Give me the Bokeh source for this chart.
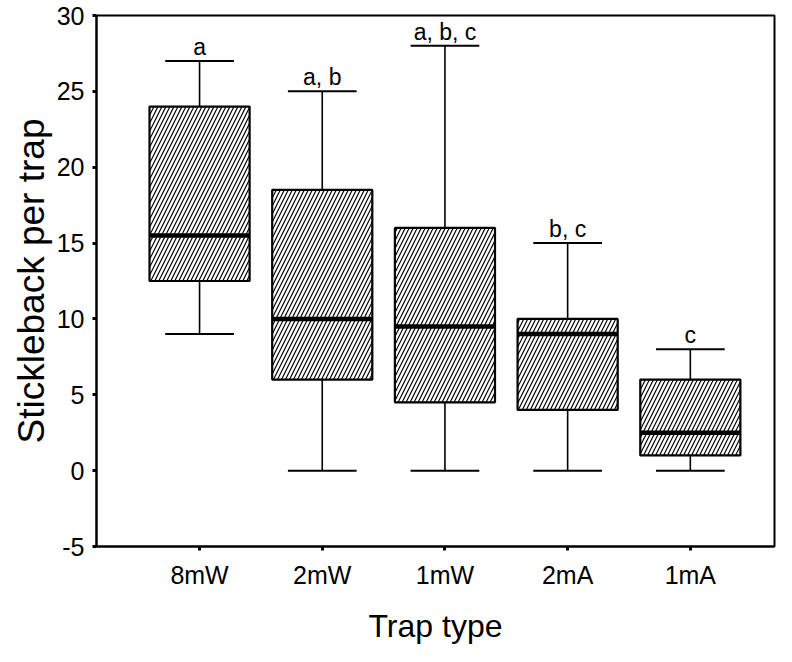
from bokeh.plotting import figure
from bokeh.models import ColumnDataSource, Range1d, FixedTicker
from bokeh.core.properties import value
from bokeh.embed import file_html
from bokeh.resources import INLINE

# ---- data ----
trap_types = ["8mW", "2mW", "1mW", "2mA", "1mA"]
whisker_low = [9, 0, 0, 0, 0]
q1 = [12.5, 6, 4.5, 4, 1]
median = [15.5, 10, 9.5, 9, 2.5]
q3 = [24, 18.5, 16, 10, 6]
whisker_high = [27, 25, 28, 15, 8]
group_labels = ["a", "a, b", "a, b, c", "b, c", "c"]
y_ticks = [-5, 0, 5, 10, 15, 20, 25, 30]
y_tick_labels = ["-5", "0", "5", "10", "15", "20", "25", "30"]

FONT = "Liberation Sans"
BOX_W = 0.816
CAP_W = 0.56

xs = list(range(len(trap_types)))
src = ColumnDataSource(dict(
    x=xs,
    lo=whisker_low, q1=q1, med=median, q3=q3, hi=whisker_high,
    lab=group_labels,
    cap_l=[x - CAP_W / 2 for x in xs], cap_r=[x + CAP_W / 2 for x in xs],
    box_l=[x - BOX_W / 2 for x in xs], box_r=[x + BOX_W / 2 for x in xs],
))

p = figure(width=776, height=646, output_backend="svg", toolbar_location=None,
           x_range=Range1d(-0.84, 4.686), y_range=Range1d(-5, 30),
           min_border_left=96, min_border_right=2, min_border_top=15, min_border_bottom=10)

p.xgrid.visible = False
p.ygrid.visible = False
p.outline_line_color = "black"
p.outline_line_width = 2
p.background_fill_color = "white"
p.border_fill_color = "white"

# whiskers
p.segment("x", "q3", "x", "hi", source=src, line_color="black", line_width=1.6)
p.segment("x", "lo", "x", "q1", source=src, line_color="black", line_width=1.6)
p.segment("cap_l", "hi", "cap_r", "hi", source=src, line_color="black", line_width=2)
p.segment("cap_l", "lo", "cap_r", "lo", source=src, line_color="black", line_width=2)

# boxes
p.vbar(x="x", width=BOX_W, bottom="q1", top="q3", source=src,
       fill_color="white", line_color="black", line_width=2.2,
       hatch_pattern="/", hatch_color="black", hatch_scale=8, hatch_weight=1.2)

# medians
p.segment("box_l", "med", "box_r", "med", source=src, line_color="black", line_width=4.5)

# group letters
p.text("x", "hi", text="lab", source=src, text_align="center", text_baseline="alphabetic",
       y_offset=-14, text_font=value(FONT), text_font_size="23px", text_color="black")

# axes
p.xaxis.ticker = FixedTicker(ticks=xs)
p.xaxis.major_label_overrides = {i: t for i, t in enumerate(trap_types)}
p.yaxis.ticker = FixedTicker(ticks=y_ticks)
p.yaxis.major_label_overrides = {v: t for v, t in zip(y_ticks, y_tick_labels)}

for ax in (p.xaxis[0], p.yaxis[0]):
    ax.axis_line_width = 2
    ax.axis_line_color = "black"
    ax.major_tick_line_width = 3
    ax.major_tick_line_color = "black"
    ax.major_tick_in = 0
    ax.major_tick_out = 4
    ax.minor_tick_line_color = None
    ax.major_label_text_font = FONT
    ax.major_label_text_font_size = "25px"
    ax.major_label_text_color = "black"
    ax.axis_label_text_font = FONT
    ax.axis_label_text_font_style = "normal"
    ax.axis_label_text_color = "black"

p.xaxis.axis_label = "Trap type"
p.xaxis.axis_label_text_font_size = "32px"
p.xaxis.major_label_standoff = 10
p.xaxis.axis_label_standoff = 16

p.yaxis.axis_label = "Stickleback per trap"
p.yaxis.axis_label_text_font_size = "37px"
p.yaxis.major_label_standoff = 8
p.yaxis.axis_label_standoff = 2

open("out.html", "w").write(file_html(p, INLINE))
